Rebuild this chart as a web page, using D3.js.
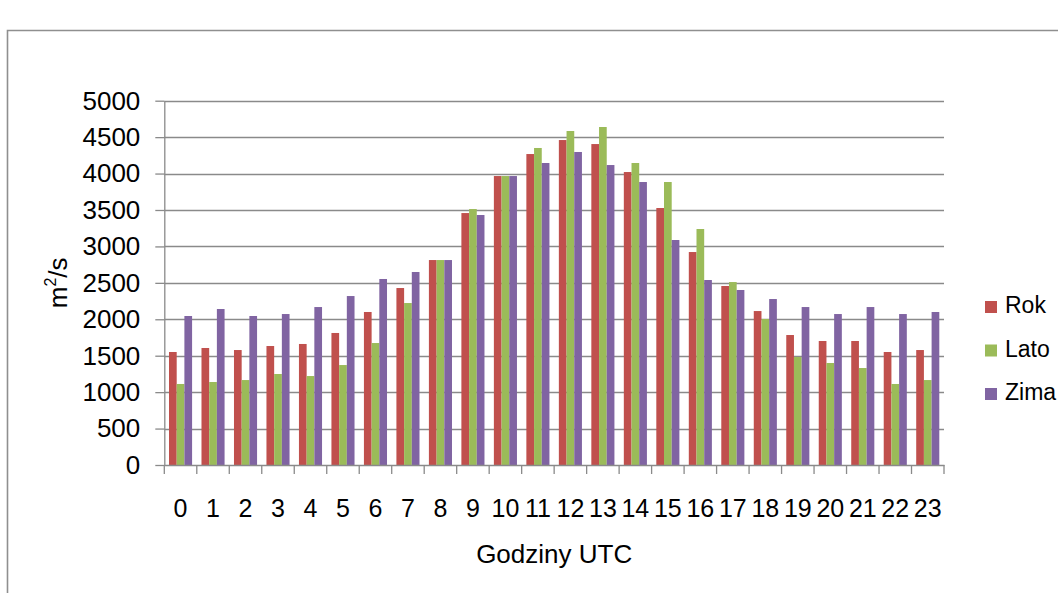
<!DOCTYPE html>
<html>
<head>
<meta charset="utf-8">
<script src="https://cdn.jsdelivr.net/npm/d3@7"></script>
<style>
  html, body { margin: 0; padding: 0; background: #fff; }
  svg { display: block; font-family: "Liberation Sans", Arial, sans-serif; }
</style>
</head>
<body>
<svg id="chart" width="1058" height="593"></svg>
<script>
const hours = ["0","1","2","3","4","5","6","7","8","9","10","11","12","13","14","15","16","17","18","19","20","21","22","23"];
const seriesNames = ["Rok", "Lato", "Zima"];
const rok  = [1551,1606,1578,1633,1661,1812,2100,2429,2813,3458,3966,4268,4460,4405,4021,3527,2923,2457,2113,1784,1702,1702,1551,1578];
const lato = [1112,1139,1166,1249,1221,1372,1674,2223,2813,3513,3966,4351,4584,4639,4145,3884,3239,2511,2004,1482,1400,1331,1112,1166];
const zima = [2045,2141,2045,2072,2168,2319,2553,2649,2813,3431,3966,4145,4296,4117,3884,3088,2539,2402,2278,2168,2072,2168,2072,2100];
const yTicks = [0,500,1000,1500,2000,2500,3000,3500,4000,4500,5000];
const colors = ["#C0504D", "#9BBB59", "#8064A2"];
const xTitle = "Godziny UTC";

const values = [rok, lato, zima];
const svg = d3.select("#chart");

// outer frame (chart area border)
svg.append("path")
  .attr("d", "M7.5,593 L7.5,30.5 L1058,30.5")
  .attr("fill", "none").attr("stroke", "#8f8f8f").attr("stroke-width", 1.6);

const pL = 164.3, pR = 944, pT = 100.7, pB = 465;
const x0 = d3.scaleBand().domain(hours).range([pL, pR]).padding(0);
const x1 = d3.scaleBand().domain(seriesNames).range([4.7, x0.bandwidth() - 4.7]).padding(0);
const y = d3.scaleLinear().domain([0, 5000]).range([pB, pT]);

// gridlines
svg.append("g").selectAll("line").data(yTicks.filter(d => d > 0)).join("line")
  .attr("x1", pL).attr("x2", pR)
  .attr("y1", d => Math.round(y(d)) + 0.5).attr("y2", d => Math.round(y(d)) + 0.5)
  .attr("stroke", "#8a8a8a").attr("stroke-width", 1.3);

// bars
const groups = svg.append("g").selectAll("g").data(hours).join("g")
  .attr("transform", d => `translate(${x0(d)},0)`);
groups.selectAll("rect").data((h, i) => seriesNames.map((s, j) => ({ s, j, v: values[j][i] }))).join("rect")
  .attr("x", d => x1(d.s))
  .attr("width", x1.bandwidth())
  .attr("y", d => y(d.v))
  .attr("height", d => y(0) - y(d.v))
  .attr("fill", d => colors[d.j]);

// y axis
const yAxis = d3.axisLeft(y).tickValues(yTicks).tickFormat(d3.format("d"))
  .tickSize(9).tickPadding(15).tickSizeOuter(0);
const gy = svg.append("g").attr("transform", `translate(${pL},0)`).call(yAxis);
gy.select(".domain").attr("stroke", "#8a8a8a").attr("stroke-width", 1.3);
gy.selectAll(".tick line").attr("stroke", "#8a8a8a").attr("stroke-width", 1.3);
gy.selectAll(".tick text").attr("font-size", 26).attr("fill", "#000")
  .attr("font-family", "'Liberation Sans', Arial, sans-serif");

// x axis
const xAxis = d3.axisBottom(x0).tickSize(0).tickPadding(0).tickSizeOuter(0);
const gx = svg.append("g").attr("transform", `translate(0,${pB})`).call(xAxis);
gx.select(".domain").attr("stroke", "#8a8a8a").attr("stroke-width", 1.3);
gx.selectAll(".tick text").attr("font-size", 25).attr("fill", "#000").attr("dy", 0).attr("y", 52)
  .attr("font-family", "'Liberation Sans', Arial, sans-serif");
// boundary ticks between categories
const bounds = hours.map(h => x0(h)).concat([pR]);
svg.append("g").selectAll("line").data(bounds).join("line")
  .attr("x1", d => d).attr("x2", d => d)
  .attr("y1", pB).attr("y2", pB + 9)
  .attr("stroke", "#8a8a8a").attr("stroke-width", 1.3);

// axis titles
svg.append("text")
  .attr("x", (pL + pR) / 2).attr("y", 563)
  .attr("text-anchor", "middle").attr("font-size", 26).attr("fill", "#000")
  .text(xTitle);

const yt = svg.append("text")
  .attr("transform", `translate(67,${(pT + pB) / 2}) rotate(-90)`)
  .attr("text-anchor", "middle").attr("font-size", 26).attr("fill", "#000");
yt.append("tspan").text("m");
yt.append("tspan").attr("font-size", 16).attr("dy", -11).text("2");
yt.append("tspan").attr("dy", 11).text("/s");

// legend
const lg = svg.append("g").selectAll("g").data(seriesNames).join("g")
  .attr("transform", (d, i) => `translate(985,${301 + i * 43.5})`);
lg.append("rect").attr("width", 12).attr("height", 12).attr("fill", (d, i) => colors[i]);
lg.append("text").attr("x", 20).attr("y", 12).attr("font-size", 23).attr("fill", "#000").text(d => d);
</script>
</body>
</html>
